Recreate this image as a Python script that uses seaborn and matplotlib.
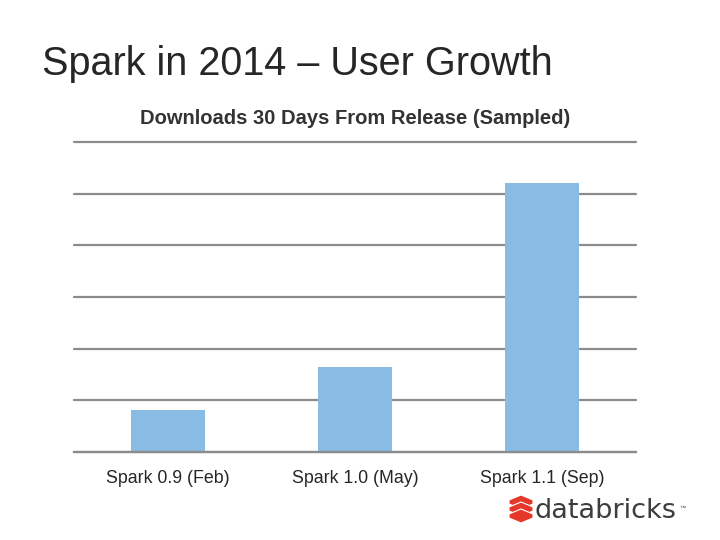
import matplotlib
matplotlib.use("Agg")
import matplotlib.pyplot as plt
import seaborn as sns
import pandas as pd
from matplotlib.patches import Polygon

categories = ["Spark 0.9 (Feb)", "Spark 1.0 (May)", "Spark 1.1 (Sep)"]
downloads = [0.81, 1.645, 5.21]  # sampled, relative units (axis has no labels)
grid_levels = [0, 1, 2, 3, 4, 5, 6]

sns.set_theme(style="white")
plt.rcParams['font.family'] = ['Liberation Sans', 'DejaVu Sans']

df = pd.DataFrame({"release": categories, "downloads": downloads})

fig = plt.figure(figsize=(7.2, 5.4), dpi=100)
ax = fig.add_axes([74/720, 88/540, 562/720, 310/540])

sns.barplot(data=df, x="release", y="downloads", color="#88BCE4",
            width=0.395, saturation=1, ax=ax, zorder=3, linewidth=0)

ax.set_ylim(0, 6)
ax.set_xlim(-0.5, 2.5)
ax.set_yticks(grid_levels)
ax.set_yticklabels([])
ax.tick_params(axis="y", length=0)
ax.yaxis.grid(True, color="#8c8c8c", linewidth=1.6)
for gl in ax.get_ygridlines():
    gl.set_clip_on(False)
ax.set_axisbelow(True)
for s in ["left", "right", "top"]:
    ax.spines[s].set_visible(False)
ax.spines["bottom"].set_color("#8c8c8c")
ax.spines["bottom"].set_linewidth(1.6)
ax.spines["bottom"].set_zorder(4)

ax.set_xlabel("")
ax.set_ylabel("")
ax.set_xticks([0, 1, 2])
ax.set_xticklabels(categories, fontsize=12.8, color="#262626")
ax.tick_params(axis="x", which="major", length=0, pad=13)
ax.set_xticks([-0.5, 0.5, 1.5, 2.5], minor=True)
ax.tick_params(axis="x", which="minor", length=5, width=1.2, color="#8c8c8c", direction="out")

fig.text(42/720, 1 - 64/540, "Spark in 2014 \u2013 User Growth", fontsize=28.5,
         color="#262626", va="center", ha="left")
fig.text(355/720, 1 - 118/540, "Downloads 30 Days From Release (Sampled)",
         fontsize=14.5, fontweight="bold", color="#333333", ha="center", va="center")

# databricks logo
red = "#E5372A"
for cy in [500, 507, 514]:
    xs = 521
    pts = [(xs - 12, cy), (xs, cy - 5), (xs + 12, cy), (xs + 12, cy + 4),
           (xs, cy + 9), (xs - 12, cy + 4)]
    pts = [(px / 720, 1 - py / 540) for px, py in pts]
    fig.add_artist(Polygon(pts, closed=True, transform=fig.transFigure,
                           facecolor=red, edgecolor="white", linewidth=0.8))
fig.text(535/720, 1 - 511/540, "databricks", fontsize=19.5, color="#3d3d3d",
         ha="left", va="center", family=["DejaVu Sans"])
fig.text(679/720, 1 - 508/540, "\u2122", fontsize=4.5, color="#3d3d3d", ha="left", va="center")

fig.savefig("out.png", dpi=100, facecolor="white")
